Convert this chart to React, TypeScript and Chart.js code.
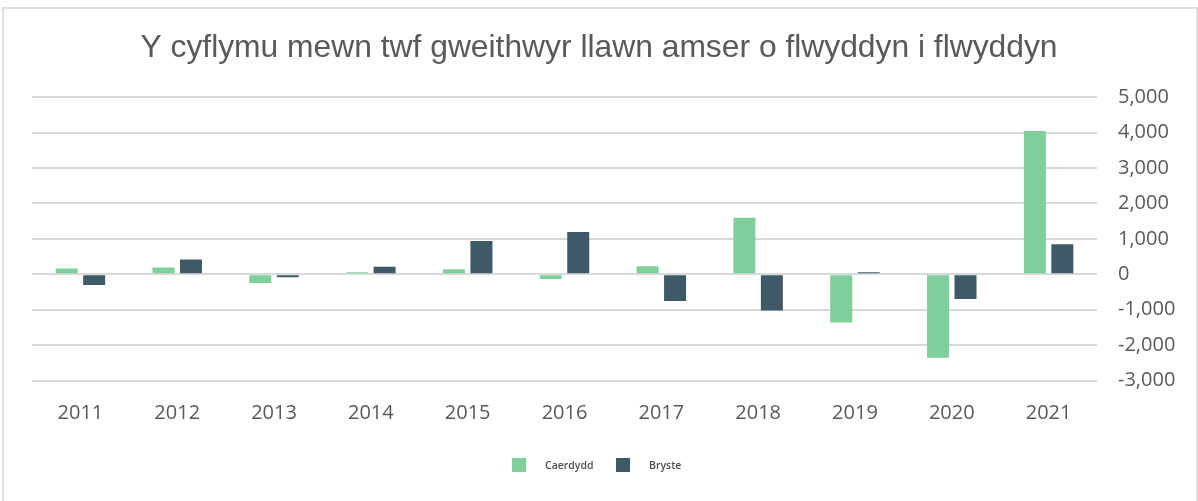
import React, { useEffect, useRef } from "react";
import { Chart, registerables } from "chart.js";

Chart.register(...registerables);

const TITLE = "Y cyflymu mewn twf gweithwyr llawn amser o flwyddyn i flwyddyn";
const YEARS = ["2011", "2012", "2013", "2014", "2015", "2016", "2017", "2018", "2019", "2020", "2021"];
const CAERDYDD = [160, 190, -245, 55, 140, -130, 225, 1600, -1365, -2355, 4050];
const BRYSTE = [-300, 415, -85, 215, 940, 1195, -755, -1025, 55, -700, 850];
const SERIES_NAMES = ["Caerdydd", "Bryste"];
const COLORS = ["#7fcf9b", "#3e5a67"];
const Y_MIN = -3000;
const Y_MAX = 5000;
const Y_STEP = 1000;

export default function App() {
  const canvasRef = useRef<HTMLCanvasElement | null>(null);

  useEffect(() => {
    document.body.style.margin = "0";
    const canvas = canvasRef.current;
    if (!canvas) return;
    const chart = new Chart(canvas, {
      type: "bar",
      data: {
        labels: YEARS,
        datasets: [
          {
            label: SERIES_NAMES[0],
            data: CAERDYDD,
            backgroundColor: COLORS[0],
            categoryPercentage: 0.568,
            barPercentage: 0.8,
            yAxisID: "y",
          },
          {
            label: SERIES_NAMES[1],
            data: BRYSTE,
            backgroundColor: COLORS[1],
            categoryPercentage: 0.568,
            barPercentage: 0.8,
            yAxisID: "y",
          },
        ],
      },
      options: {
        responsive: false,
        animation: false,
        devicePixelRatio: 1,
        layout: { padding: { left: 0, right: 0, top: 0, bottom: 63.5 } },
        plugins: {
          legend: { display: false },
          tooltip: { enabled: false },
          title: {
            display: true,
            text: TITLE,
            color: "#595959",
            font: { family: '"Liberation Sans", Arial, sans-serif', size: 31.8, weight: "normal" },
            padding: { top: 29.6, bottom: 29.5 },
          },
        },
        scales: {
          x: {
            grid: { display: false },
            border: { display: false },
            ticks: {
              color: "#595959",
              font: { family: '"Open Sans", sans-serif', size: 20 },
              padding: 12.5,
              maxRotation: 0,
            },
          },
          y: {
            position: "right",
            min: Y_MIN,
            max: Y_MAX,
            border: { display: false },
            grid: { color: "#d9d9d9", lineWidth: 2, drawTicks: false },
            ticks: {
              stepSize: Y_STEP,
              padding: 21,
              color: "#595959",
              font: { family: '"Open Sans", sans-serif', size: 20 },
              callback: (v: any) => Number(v).toLocaleString("en-US"),
            },
            afterFit: (scale: any) => {
              scale.width = 101;
            },
          },
          spacer: {
            type: "linear",
            position: "left",
            display: true,
            grid: { display: false },
            border: { display: false },
            ticks: { display: false },
            afterFit: (scale: any) => {
              scale.width = 32;
            },
          },
        },
      },
    });
    return () => chart.destroy();
  }, []);

  const legendText: React.CSSProperties = {
    position: "absolute",
    top: 458,
    height: 14,
    lineHeight: "14px",
    fontFamily: '"Open Sans", sans-serif',
    fontSize: 10.5,
    fontWeight: 600,
    color: "#4d4d4d",
    whiteSpace: "nowrap",
  };

  return (
    <div style={{ position: "relative", width: 1198, height: 501, overflow: "hidden", background: "#fff" }}>
      <div
        style={{
          position: "absolute",
          left: 2,
          top: 7,
          width: 1196,
          height: 520,
          border: "2px solid #e0e0e0",
          boxSizing: "border-box",
        }}
      />
      <canvas ref={canvasRef} width={1198} height={501} style={{ position: "absolute", left: 0, top: 0 }} />
      <div style={{ position: "absolute", left: 512, top: 458, width: 14, height: 14, background: COLORS[0] }} />
      <div style={{ ...legendText, left: 545 }}>{SERIES_NAMES[0]}</div>
      <div style={{ position: "absolute", left: 616, top: 458, width: 14, height: 14, background: COLORS[1] }} />
      <div style={{ ...legendText, left: 649 }}>{SERIES_NAMES[1]}</div>
    </div>
  );
}
